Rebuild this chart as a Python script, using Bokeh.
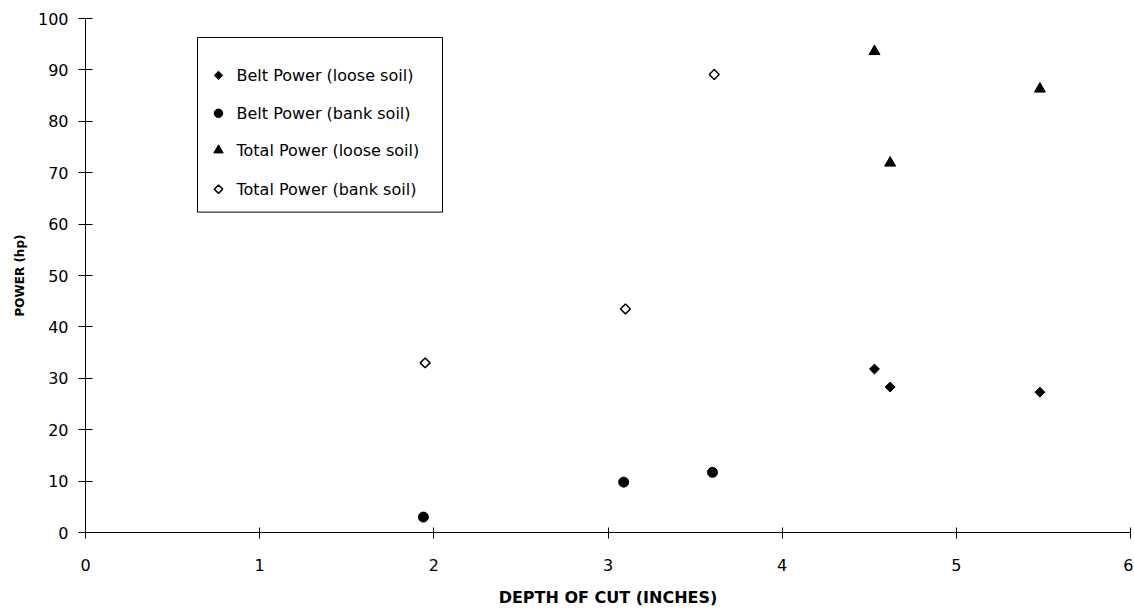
import numpy as np
from bokeh.plotting import figure
from bokeh.models import Range1d, FixedTicker
from bokeh.core.properties import value
from bokeh.embed import file_html
from bokeh.resources import INLINE

# ---- data ----
belt_loose_x = [4.53, 4.62, 5.48]
belt_loose_y = [31.8, 28.3, 27.3]

belt_bank_x = [1.94, 3.09, 3.60]
belt_bank_y = [3.0, 9.8, 11.7]

total_loose_x = [4.53, 4.62, 5.48]
total_loose_y = [93.6, 71.9, 86.3]

total_bank_x = [1.95, 3.10, 3.61]
total_bank_y = [33.0, 43.5, 89.1]

series_names = ["Belt Power (loose soil)", "Belt Power (bank soil)",
                "Total Power (loose soil)", "Total Power (bank soil)"]

x_ticks = [0, 1, 2, 3, 4, 5, 6]
y_ticks = [0, 10, 20, 30, 40, 50, 60, 70, 80, 90, 100]

FONT = "DejaVu Sans"

# ---- layout (pixels) ----
LEFT, RIGHT_B, TOP, BOTTOM_B = 85, 3, 18, 76
FW, FH = 1045, 515
XMIN, XMAX, YMIN, YMAX = 0, 6, 0, 100

p = figure(width=LEFT + FW + RIGHT_B, height=TOP + FH + BOTTOM_B,
           output_backend="svg", toolbar_location=None,
           x_range=Range1d(XMIN, XMAX), y_range=Range1d(YMIN, YMAX),
           min_border_left=LEFT, min_border_right=RIGHT_B,
           min_border_top=TOP, min_border_bottom=BOTTOM_B)
p.outline_line_color = None
p.xgrid.visible = False
p.ygrid.visible = False
p.background_fill_color = "white"
p.border_fill_color = "white"

marker_styles = [
    dict(marker="square", angle=np.pi / 4, size=7, fill_color="black", line_color="black", line_width=1),
    dict(marker="circle", angle=0, size=10, fill_color="black", line_color="black", line_width=1),
    dict(marker="triangle", angle=0, size=11, fill_color="black", line_color="black", line_width=1),
    dict(marker="square", angle=np.pi / 4, size=7, fill_color="white", line_color="black", line_width=1.5),
]
series = [(belt_loose_x, belt_loose_y), (belt_bank_x, belt_bank_y),
          (total_loose_x, total_loose_y), (total_bank_x, total_bank_y)]

for (xs, ys), st in zip(series, marker_styles):
    p.scatter(xs, ys, **st)

for ax in (p.xaxis[0], p.yaxis[0]):
    ax.axis_line_color = "black"
    ax.major_tick_line_color = "black"
    ax.minor_tick_line_color = None
    ax.major_label_text_font = FONT
    ax.major_label_text_font_size = "16px"
    ax.major_label_text_color = "black"
    ax.axis_label_text_font = FONT
    ax.axis_label_text_font_style = "bold"
    ax.axis_label_text_color = "black"

p.xaxis.ticker = FixedTicker(ticks=x_ticks)
p.yaxis.ticker = FixedTicker(ticks=y_ticks)
p.xaxis.major_tick_in = 5
p.xaxis.major_tick_out = 6
p.yaxis.major_tick_in = 7
p.yaxis.major_tick_out = 7
p.xaxis.major_label_standoff = 20
p.yaxis.major_label_standoff = 10
p.xaxis.axis_label = "DEPTH OF CUT (INCHES)"
p.yaxis.axis_label = "POWER (hp)"
p.xaxis.axis_label_text_font_size = "16px"
p.yaxis.axis_label_text_font_size = "12px"
p.xaxis.axis_label_standoff = 14
p.yaxis.axis_label_standoff = 8

# ---- legend drawn in the frame, positioned in pixels relative to frame top-left ----
def px_x(dx):
    return XMIN + dx * (XMAX - XMIN) / FW

def px_y(dy):
    return YMAX - dy * (YMAX - YMIN) / FH

box_l, box_r, box_t, box_b = 112, 357, 19, 194
p.quad(left=[px_x(box_l)], right=[px_x(box_r)], top=[px_y(box_t)], bottom=[px_y(box_b)],
       fill_color="white", line_color="black", line_width=1)
row_dy = [57, 95, 132, 171]
for i, (name, st) in enumerate(zip(series_names, marker_styles)):
    st2 = dict(st)
    st2["size"] = st["size"] * 0.85
    p.scatter([px_x(133)], [px_y(row_dy[i])], **st2)
    p.text([px_x(151)], [px_y(row_dy[i])], text=[name], text_font=value(FONT),
           text_font_size="16px", text_baseline="middle", text_align="left",
           text_color="black")

open("out.html", "w").write(file_html(p, INLINE))
